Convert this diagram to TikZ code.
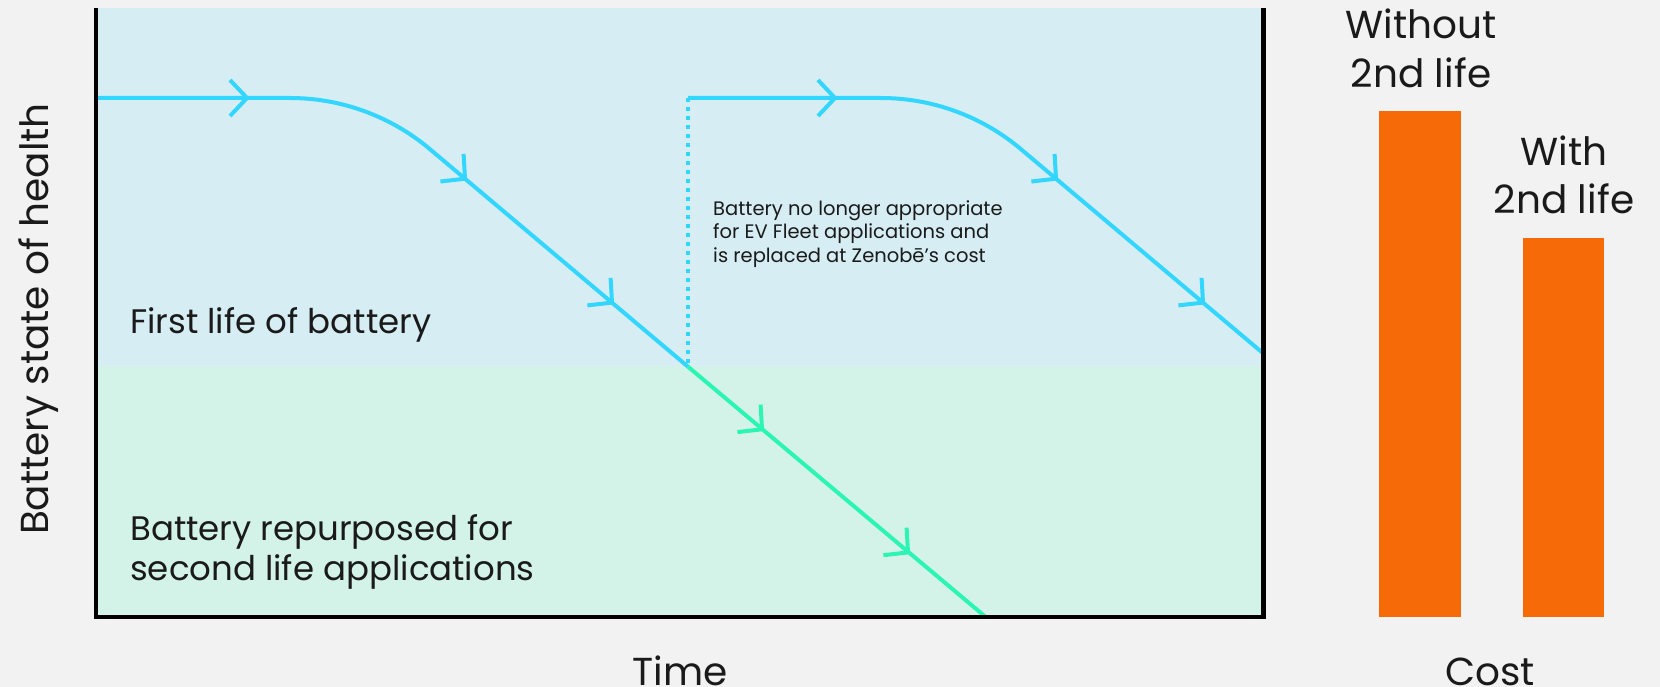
\documentclass[tikz,border=0pt]{standalone}
\usepackage{fontspec}
\setmainfont{Poppins}
\definecolor{bg}{HTML}{F2F2F2}
\definecolor{blueregion}{HTML}{D5EDF3}
\definecolor{greenregion}{HTML}{D3F3E8}
\definecolor{cyanline}{HTML}{33D6FF}
\definecolor{greenline}{HTML}{2CF5B4}
\definecolor{barorange}{HTML}{F76A08}
\definecolor{ink}{HTML}{1A1A1A}
\begin{document}
\begin{tikzpicture}[x=1pt,y=-1pt,
  life/.style={line width=4pt, line join=round},
  bluepath/.style={life, draw=cyanline},
  greenpath/.style={life, draw=greenline},
  chev/.pic={\draw[line width=4pt, line join=round, line cap=butt] (-17pt,18pt) -- (0pt,0pt) -- (-17pt,-18pt);},
  axisline/.style={line width=4.5pt, draw=black},
  lbl/.style={inner sep=0pt, text=ink},
  bigtxt/.style={lbl, font=\fontsize{39}{43}\selectfont},
  midtxt/.style={lbl, font=\fontsize{34}{38}\selectfont},
  smalltxt/.style={lbl, font=\fontsize{19.5}{22}\selectfont},
  costbar/.style={fill=barorange, draw=none},
]
\useasboundingbox (0,0) rectangle (1660,687);
\fill[bg] (0,0) rectangle (1660,687);

% regions
\fill[blueregion] (96,8) rectangle (1263.5,366);
\fill[greenregion] (96,366) rectangle (1263.5,617);

% key points
\coordinate (s1) at (97,98);
\coordinate (h1) at (290,98);
\coordinate (e1) at (429.5,148.8);
\coordinate (j) at (688,366.7);
\coordinate (g) at (985.7,617);
\coordinate (s2) at (688,98);
\coordinate (h2) at (881,98);
\coordinate (e2) at (1020.5,148.8);
\coordinate (r2) at (1263,353.2);

% first life curve
\draw[bluepath] (s1) -- (h1) .. controls (341,98) and (390.4,116.0) .. (e1) -- (j);
\draw[greenpath] (j) -- (g);
% dotted replacement line
\draw[draw=cyanline, line width=4pt, dash pattern=on 4pt off 5pt] (s2) -- (j);
% second battery curve
\draw[bluepath] (s2) -- (h2) .. controls (932,98) and (981.4,116.0) .. (e2) -- (r2);

% chevrons
\pic[color=cyanline] at (247,98) {chev};
\pic[color=cyanline] at (835,98) {chev};
\pic[color=cyanline, rotate=-40.13] at (465,178.7) {chev};
\pic[color=cyanline, rotate=-40.13] at (612,302.6) {chev};
\pic[color=cyanline, rotate=-40.13] at (1056,178.7) {chev};
\pic[color=cyanline, rotate=-40.13] at (1203,302.6) {chev};
\pic[color=greenline, rotate=-40.13] at (762,429.3) {chev};
\pic[color=greenline, rotate=-40.13] at (908,552.4) {chev};

% axes
\draw[axisline] (96,8) -- (96,617) -- (1263.5,617) -- (1263.5,8);

% texts
\node[bigtxt, rotate=90, anchor=base] (ylab) at (48,319) {Battery state of health};
\node[midtxt, anchor=base west] (first) at (130,333) {First life of battery};
\node[midtxt, anchor=base west] (rep1) at (130,540) {Battery repurposed for};
\node[midtxt, anchor=base west] (rep2) at (130,580) {second life applications};
\node[smalltxt, anchor=base west] (ann1) at (713,215) {Battery no longer appropriate};
\node[smalltxt, anchor=base west] (ann2) at (713,238.5) {for EV Fleet applications and};
\node[smalltxt, anchor=base west] (ann3) at (713,262) {is replaced at Zenobē’s cost};
\node[bigtxt, anchor=base] (time) at (680,685) {Time};
\node[bigtxt, anchor=base] (cost) at (1490,685) {Cost};

% bars
\fill[costbar] (1379,111) rectangle (1461,617);
\fill[costbar] (1523,238) rectangle (1604,617);
\node[bigtxt, anchor=base] (wo1) at (1421,39) {Without};
\node[bigtxt, anchor=base] (wo2) at (1421,88) {2nd life};
\node[bigtxt, anchor=base] (wi1) at (1564,166) {With};
\node[bigtxt, anchor=base] (wi2) at (1564,214) {2nd life};
\end{tikzpicture}
\end{document}
